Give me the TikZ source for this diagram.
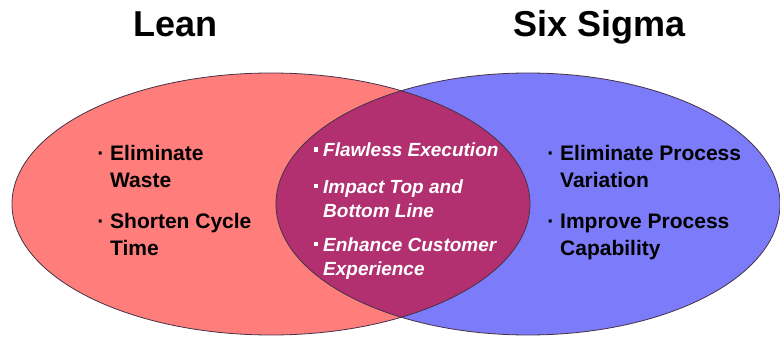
\documentclass[tikz,border=0pt]{standalone}
\usepackage{fontspec}
\setmainfont{Liberation Sans}

\definecolor{leanred}{RGB}{255,126,124}
\definecolor{sigmablue}{RGB}{124,124,250}
\definecolor{bothmag}{RGB}{178,48,112}
\definecolor{rimgray}{RGB}{70,50,70}

\begin{document}
\begin{tikzpicture}[x=1pt,y=-1pt, line join=round]
\tikzset{
    title/.style= {font=\fontsize{36}{40}\selectfont\bfseries, anchor=base west, inner sep=0pt},
    point/.style= {font=\fontsize{21}{27}\selectfont\bfseries, align=left, anchor=base west, inner sep=0pt},
    shared/.style={font=\fontsize{19}{24}\selectfont\bfseries\itshape, text=white, align=left, anchor=base west, inner sep=0pt},
    rim/.style=   {draw=rimgray, line width=0.8pt}
}
\newcommand{\dotb}{\llap{\textperiodcentered\ }}
\newcommand{\sqb}{\llap{\raisebox{5pt}{\rule{4.5pt}{4.5pt}}\hspace{5pt}}}
\useasboundingbox (0,0) rectangle (780,337);

%% The two sets and their overlap
\fill[leanred]   (271,204) ellipse (259 and 131);
\fill[sigmablue] (528,204) ellipse (252 and 131);
\begin{scope}
  \clip (271,204) ellipse (259 and 131);
  \fill[bothmag] (528,204) ellipse (252 and 131);
\end{scope}
\draw[rim] (271,204) ellipse (259 and 131);
\draw[rim] (528,204) ellipse (252 and 131);

%% Headings
\node[title] (lean)  at (133,37) {Lean};
\node[title] (sigma) at (513,37) {Six Sigma};

%% Lean only (base = last line)
\node[point] (waste) at (110,187) {\dotb Eliminate\\Waste};
\node[point] (cycle) at (110,255) {\dotb Shorten Cycle\\Time};

%% Six Sigma only
\node[point] (vari) at (560,187) {\dotb Eliminate Process\\Variation};
\node[point] (capa) at (560,255) {\dotb Improve Process\\Capability};

%% Both
\node[shared] (flaw) at (323,157) {\sqb Flawless Execution};
\node[shared] (line) at (323,217) {\sqb Impact Top and\\Bottom Line};
\node[shared] (cust) at (323,275) {\sqb Enhance Customer\\Experience};

\end{tikzpicture}
\end{document}
